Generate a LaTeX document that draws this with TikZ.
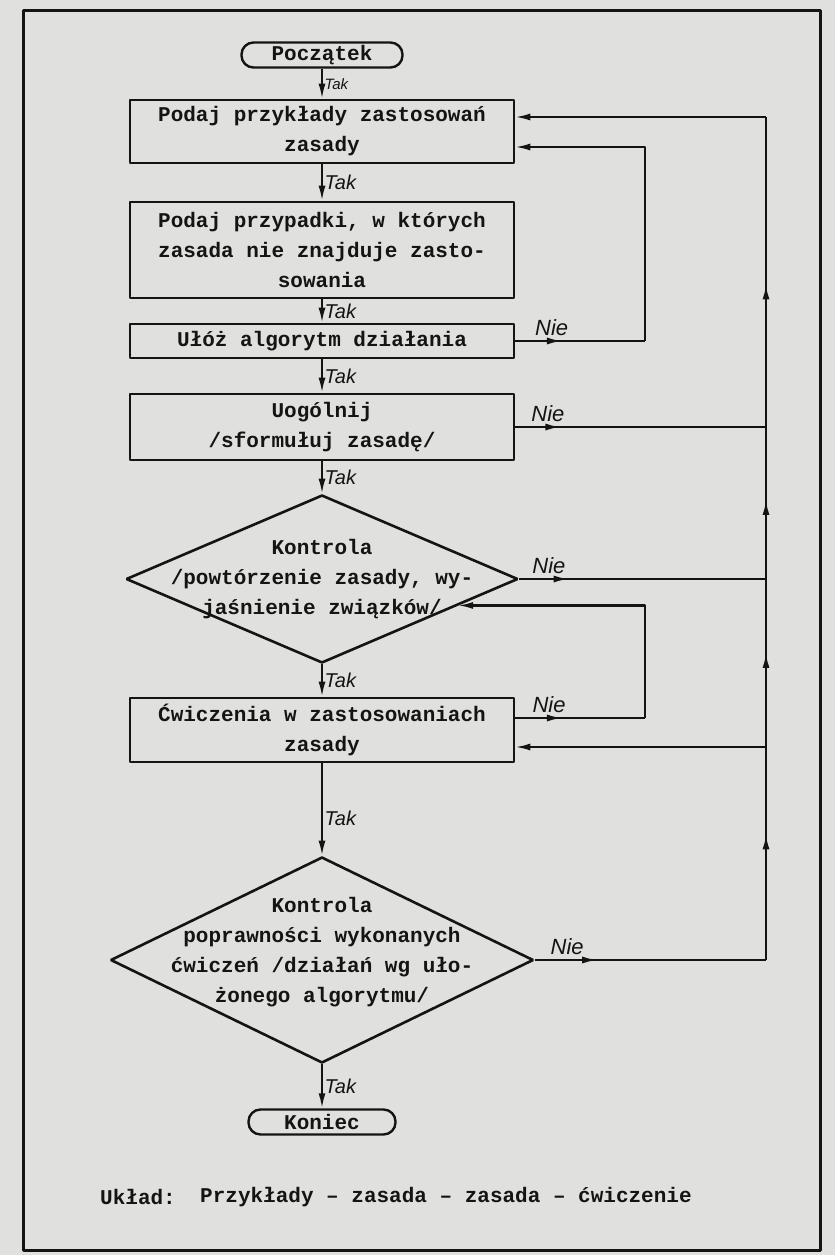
\documentclass[tikz,border=0pt]{standalone}
\usepackage{fontspec}
\setmonofont{Liberation Mono}
\newfontfamily\handfont{Liberation Sans}
\usetikzlibrary{arrows.meta,shapes.geometric,decorations.markings,calc}

\definecolor{paper}{rgb}{0.88,0.88,0.87}
\definecolor{ink}{rgb}{0.08,0.08,0.08}
\newcommand{\typefont}{\ttfamily\bfseries\fontsize{21bp}{30bp}\selectfont}
\newcommand{\takfont}{\handfont\itshape\fontsize{20bp}{20bp}\selectfont}

\tikzset{
  box/.style={draw=ink, line width=2.6bp, rectangle, minimum width=384bp, align=center, inner sep=0pt, text=ink, font=\typefont},
  term/.style={draw=ink, line width=2.4bp, rounded corners=12bp, minimum height=25bp, inner sep=0pt, text=ink, font=\typefont},
  decision/.style={draw=ink, line width=2.6bp, diamond, inner sep=0pt},
  line/.style={draw=ink, line width=2.1bp},
  taklabel/.style={font=\takfont, inner sep=1.5bp, text=ink},
  nielabel/.style={font=\handfont\itshape\fontsize{22bp}{22bp}\selectfont, inner sep=1.5bp, text=ink},
  midarrow/.style={postaction={decorate}, decoration={markings, mark=at position #1 with {\arrow{>}}}},
  midarrow/.default=0.5,
}

\begin{document}
\begin{tikzpicture}[x=1bp,y=-1bp,>={Latex[length=15bp,width=7bp]},line join=bevel]
  \fill[paper] (0,0) rectangle (835,1255);
  \useasboundingbox (0,0) rectangle (835,1255);
  % Frame
  \draw[ink, line width=3bp] (23,10) rectangle (820,1250);
  % Rails of the loops
  \coordinate (loop) at (645,0);
  \coordinate (rail) at (766,0);
%%
  % Node: start
  \node[term, minimum width=161bp] (start) at (322,55) {Początek};
  % Node: p1
  \node[box, minimum height=63bp] (p1) at (322,131.5) {Podaj przykłady zastosowań\\zasady};
  % Node: p2
  \node[box, minimum height=96bp] (p2) at (322,250) {Podaj przypadki, w których\\zasada nie znajduje zasto-\\sowania};
  % Node: p3
  \node[box, minimum height=34bp] (p3) at (322,341) {Ułóż algorytm działania};
  % Node: p4
  \node[box, minimum height=66bp] (p4) at (322,427) {Uogólnij\\/sformułuj zasadę/};
  % Node: d1
  \node[decision, minimum width=392bp, minimum height=168bp] (d1) at (322,579) {};
  \node[align=center, text=ink, font=\typefont] (d1txt) at (d1.center) {Kontrola\\/powtórzenie zasady, wy-\\jaśnienie związków/};
  % Node: p5
  \node[box, minimum height=64bp] (p5) at (322,730) {Ćwiczenia w zastosowaniach\\zasady};
  % Node: d2
  \node[decision, minimum width=423bp, minimum height=206bp] (d2) at (322,960) {};
  \node[align=center, text=ink, font=\typefont] (d2txt) at ($(d2.center)+(0,-8)$) {Kontrola\\poprawności wykonanych\\ćwiczeń /działań wg uło-\\żonego algorytmu/};
  % Node: stop
  \node[term, minimum width=147bp] (stop) at (322,1122) {Koniec};
  % Node: legend
  \node[anchor=west, text=ink, font=\typefont, inner sep=0pt] (uklad) at (100,1197) {Układ:};
  \node[anchor=west, text=ink, font=\typefont, inner sep=0pt] (order) at (200,1197) {Przykłady – zasada – zasada – ćwiczenie};
%%
  % Edges: main line, Tak
  \draw[line,->] (start.south) -- (p1.north) node[midway, right, taklabel, font=\handfont\itshape\fontsize{15bp}{15bp}\selectfont] (tak1) {Tak};
  \draw[line,->] (p1.south) -- (p2.north) node[midway, right, taklabel] (tak2) {Tak};
  \draw[line,->] (p2.south) -- (p3.north) node[midway, right, taklabel] (tak3) {Tak};
  \draw[line,->] (p3.south) -- (p4.north) node[midway, right, taklabel] (tak4) {Tak};
  \draw[line,->] (p4.south) -- (d1.north) node[midway, right, taklabel] (tak5) {Tak};
  \draw[line,->] (d1.south) -- (p5.north) node[midway, right, taklabel] (tak6) {Tak};
  \draw[line,->] (p5.south) -- (d2.north) node[pos=0.6, right, taklabel] (tak7) {Tak};
  \draw[line,->] (d2.south) -- (stop.north) node[midway, right, taklabel] (tak8) {Tak};
  % Edge: p3 -> p1 (Nie)
  \draw[line, midarrow=0.36] (p3.east) -- (p3.east -| loop) node[pos=0.28, above=3bp, nielabel] (nie1) {Nie};
  \draw[line,->] (p3.east -| loop) |- ($(p1.east)+(0,15.5)$);
  % Edge: p5 -> d1 (Nie)
  \coordinate (p5out) at ($(p5.east)+(0,-12)$);
  \coordinate (d1in) at ($(d1.east)!0.31!(d1.south)$);
  \draw[line, midarrow=0.36] (p5out) -- (p5out -| loop) node[pos=0.26, above=3bp, nielabel] (nie4) {Nie};
  \draw[line,->] (p5out -| loop) |- (d1in);
  % Edges: p4, d1, d2 -> rail (Nie)
  \coordinate (p5in) at ($(p5.east)+(0,17)$);
  \coordinate (p1in) at ($(p1.east)+(0,-14.5)$);
  \draw[line, midarrow=0.18] (p4.east) -- (p4.east -| rail) node[pos=0.13, above=3bp, nielabel] (nie2) {Nie};
  \draw[line, midarrow=0.2] (d1.east) -- (d1.east -| rail) node[pos=0.12, above=3bp, nielabel] (nie3) {Nie};
  \draw[line, midarrow=0.27] (d2.east) -- (d2.east -| rail) node[pos=0.14, above=3bp, nielabel] (nie5) {Nie};
  % Edge: rail -> p5, rail -> p1
  \draw[line, midarrow=0.59] (d2.east -| rail) -- (p5in -| rail);
  \draw[line,->] (p5in -| rail) -- (p5in);
  \draw[line, midarrow=0.56] (p5in -| rail) -- (d1.east -| rail);
  \draw[line, midarrow=0.52] (d1.east -| rail) -- (p4.east -| rail);
  \draw[line, midarrow=0.46] (p4.east -| rail) -- (p1in -| rail);
  \draw[line,->] (p1in -| rail) -- (p1in);
%
\end{tikzpicture}
\end{document}
